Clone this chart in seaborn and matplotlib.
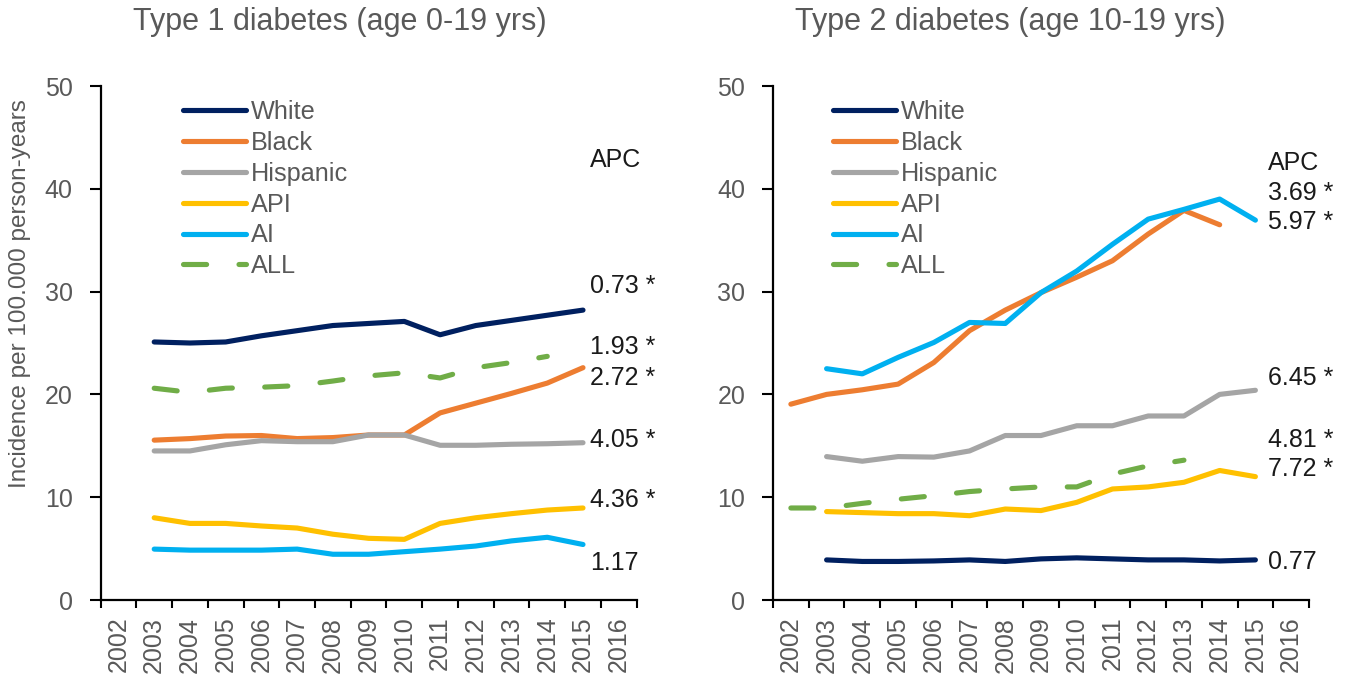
import matplotlib
matplotlib.use("Agg")
import matplotlib.pyplot as plt
import numpy as np
import pandas as pd
import seaborn as sns

# ---- data -------------------------------------------------------------
years = list(range(2002, 2017))
groups = ["White", "Black", "Hispanic", "API", "AI", "ALL"]
colors = ["#002060", "#ED7D31", "#A5A5A5", "#FFC000", "#00B0F0", "#70AD47"]

# Type 1 diabetes, age 0-19
t1_years = list(range(2003, 2016))
t1_white = [25.1, 25.0, 25.1, 25.7, 26.2, 26.7, 26.9, 27.1, 25.8, 26.7, 27.2, 27.7, 28.2]
t1_black = [15.55, 15.7, 15.95, 16.0, 15.7, 15.8, 16.05, 16.05, 18.2, 19.15, 20.1, 21.1, 22.6]
t1_hisp = [14.5, 14.5, 15.1, 15.5, 15.4, 15.4, 16.05, 16.05, 15.05, 15.05, 15.15, 15.2, 15.3]
t1_api = [8.0, 7.45, 7.45, 7.2, 7.0, 6.4, 6.0, 5.9, 7.45, 8.0, 8.4, 8.75, 8.95]
t1_ai = [4.95, 4.85, 4.85, 4.85, 4.95, 4.45, 4.45, 4.7, 4.95, 5.25, 5.75, 6.1, 5.4]
t1_all_years = list(range(2003, 2015))
t1_all = [20.6, 20.2, 20.6, 20.7, 20.85, 21.3, 21.8, 22.1, 21.6, 22.6, 23.1, 23.7]

# Type 2 diabetes, age 10-19
t2_years = list(range(2003, 2016))
t2_white = [3.9, 3.75, 3.75, 3.8, 3.9, 3.75, 4.0, 4.1, 4.0, 3.9, 3.9, 3.8, 3.9]
t2_black_years = list(range(2002, 2015))
t2_black = [19.05, 20.0, 20.45, 21.0, 23.1, 26.2, 28.2, 29.9, 31.4, 33.0, 35.6, 37.9, 36.5]
t2_hisp = [13.95, 13.5, 13.95, 13.9, 14.5, 16.0, 16.0, 16.95, 16.95, 17.9, 17.9, 20.0, 20.4]
t2_api = [8.6, 8.5, 8.4, 8.4, 8.2, 8.85, 8.7, 9.5, 10.8, 11.0, 11.45, 12.6, 12.0]
t2_ai = [22.5, 22.0, 23.6, 25.05, 27.0, 26.9, 29.9, 32.0, 34.6, 37.05, 38.0, 39.0, 36.95]
t2_all_years = list(range(2002, 2014))
t2_all = [8.95, 8.95, 9.4, 9.8, 10.15, 10.55, 10.8, 11.0, 11.0, 12.25, 13.05, 13.6]

# annual percent change labels (text, y position)
t1_apc = [("0.73 *", 30.5), ("1.93 *", 24.6), ("2.72 *", 21.6),
          ("4.05 *", 15.6), ("4.36 *", 9.7), ("1.17", 3.6)]
t2_apc = [("3.69 *", 39.6), ("5.97 *", 36.8), ("6.45 *", 21.6),
          ("4.81 *", 15.6), ("7.72 *", 12.7), ("0.77", 3.7)]

panels = [
    dict(title="Type 1 diabetes (age 0-19 yrs)",
         series=[(t1_years, t1_white), (t1_years, t1_black), (t1_years, t1_hisp),
                 (t1_years, t1_api), (t1_years, t1_ai), (t1_all_years, t1_all)],
         apc=t1_apc, apc_head=42.8, apc_x=13.7, leg_x=0.13),
    dict(title="Type 2 diabetes (age 10-19 yrs)",
         series=[(t2_years, t2_white), (t2_black_years, t2_black), (t2_years, t2_hisp),
                 (t2_years, t2_api), (t2_years, t2_ai), (t2_all_years, t2_all)],
         apc=t2_apc, apc_head=42.5, apc_x=13.85, leg_x=0.088),
]

# ---- style ------------------------------------------------------------
sns.set_style("ticks")
plt.rcParams["font.family"] = ["Liberation Sans", "DejaVu Sans"]
GRAY = "#595959"
TXT = "#1a1a1a"

fig = plt.figure(figsize=(13.47, 6.77), dpi=100)
W, H = 1347, 677
ax_rects = [
    (100.6 / W, 77 / H, 536 / W, 514 / H),
    (773 / W, 77 / H, 536 / W, 514 / H),
]
title_x = [340, 1010]

for k, (panel, rect) in enumerate(zip(panels, ax_rects)):
    ax = fig.add_axes(rect)
    handles = []
    for name, color, (yrs, vals) in zip(groups, colors, panel["series"]):
        df = pd.DataFrame({"pos": [y - years[0] + 0.5 for y in yrs], "val": vals})
        sns.lineplot(data=df, x="pos", y="val", ax=ax, color=color, lw=3.7,
                     label=name, legend=False)
        line = ax.get_lines()[-1]
        line.set_solid_capstyle("round")
        line.set_solid_joinstyle("round")
        if name == "ALL":
            line.set_dashes((4.5, 6.3))
            line.set_dash_capstyle("round")
        handles.append(line)

    ax.set_xlim(0, len(years))
    ax.set_ylim(0, 50)
    ax.set_xlabel("")
    ax.set_ylabel("")
    # tick marks between categories, labels centred on each category
    ax.set_xticks(np.arange(0, len(years) + 1))
    ax.set_xticklabels([])
    ax.set_xticks(np.arange(len(years)) + 0.5, minor=True)
    ax.set_xticklabels([str(y) for y in years], minor=True, rotation=90,
                       fontsize=18, color=GRAY)
    ax.tick_params(axis="x", which="major", length=6, width=1.5, color="black",
                   direction="out")
    ax.tick_params(axis="x", which="minor", length=0, pad=12)
    ax.set_yticks(range(0, 51, 10))
    ax.tick_params(axis="y", length=8, width=1.5, color="black", labelsize=18,
                   labelcolor=GRAY, pad=12)
    for side in ["top", "right"]:
        ax.spines[side].set_visible(False)
    for side in ["left", "bottom"]:
        ax.spines[side].set_linewidth(1.6)
        ax.spines[side].set_color("black")

    leg = ax.legend(handles=handles, labels=groups, loc="upper left",
                    bbox_to_anchor=(panel["leg_x"], 0.997), frameon=False,
                    fontsize=18.2, handlelength=2.5, handletextpad=0.2,
                    labelspacing=0.27, borderpad=0)
    for t in leg.get_texts():
        t.set_color(GRAY)

    ax.text(panel["apc_x"], panel["apc_head"], "APC", ha="left", va="center",
            fontsize=18, color=TXT)
    for txt, yv in panel["apc"]:
        ax.text(panel["apc_x"], yv, txt, ha="left", va="center", fontsize=18,
                color=TXT)

    fig.text(title_x[k] / W, 1 - 22 / H, panel["title"], ha="center",
             va="center", fontsize=22, color=GRAY)

fig.text(20 / W, 1 - 294 / H, "Incidence per 100.000 person-years",
         rotation=90, ha="center", va="center", fontsize=17.5, color=GRAY)

fig.savefig("out.png", dpi=100)
